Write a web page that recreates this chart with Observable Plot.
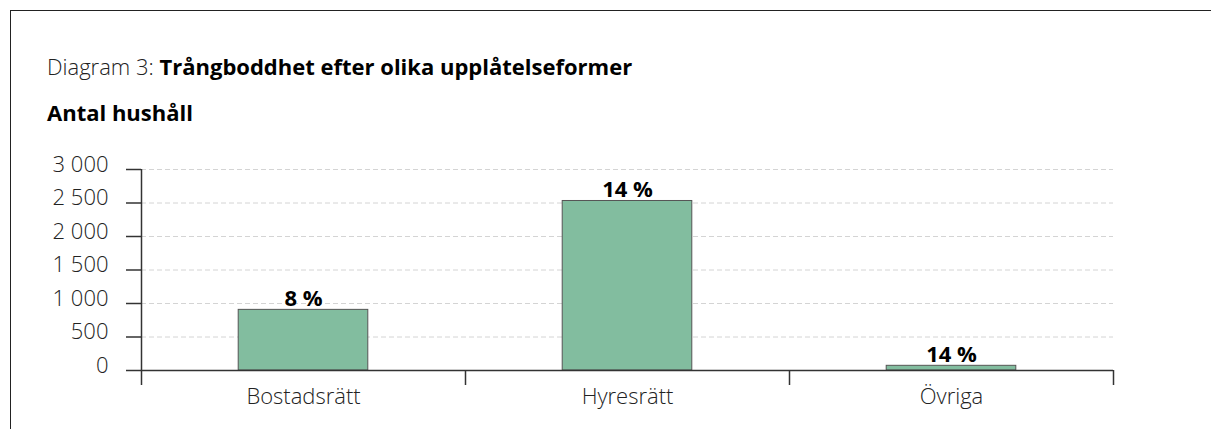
<!DOCTYPE html>
<html>
<head>
<meta charset="utf-8">
<script src="https://cdn.jsdelivr.net/npm/d3@7"></script>
<script src="https://cdn.jsdelivr.net/npm/@observablehq/plot@0.6"></script>
<style>
  html, body { margin: 0; padding: 0; background: #fff; }
  body { position: relative; width: 1211px; height: 429px; overflow: hidden; font-family: "Open Sans", sans-serif; }
  #frame { position: absolute; left: 10px; top: 10px; width: 1210px; height: 430px; border-left: 1.5px solid #222; border-top: 1.5px solid #222; }
  #title { position: absolute; left: 47px; top: 51px; font-size: 22px; line-height: normal; color: #222; white-space: nowrap; }
  #title .lead { font-weight: 300; }
  #title b { font-weight: 700; color: #000; }
  #subtitle { position: absolute; left: 47px; top: 97px; font-size: 22px; line-height: normal; font-weight: 700; color: #000; }
  #chart { position: absolute; left: 0; top: 140px; }
</style>
</head>
<body>
<div id="frame"></div>
<div id="title"><span class="lead">Diagram 3: </span><b>Trångboddhet efter olika upplåtelseformer</b></div>
<div id="subtitle">Antal hushåll</div>
<div id="chart"></div>
<script>
const categories = ["Bostadsrätt", "Hyresrätt", "Övriga"];
const households = [905, 2530, 70];
const shareLabels = ["8 %", "14 %", "14 %"];
const yTicks = [0, 500, 1000, 1500, 2000, 2500, 3000];
const gridTicks = [500, 1000, 1500, 2000, 2500, 3000];

const data = categories.map((c, i) => ({ category: c, index: i, value: households[i], label: shareLabels[i] }));
const boundaries = d3.range(categories.length + 1);
const centers = categories.map((c, i) => i + 0.5);

const sv = d3.formatLocale({ decimal: ",", thousands: " ", grouping: [3], currency: ["", ""] });
const fmt = sv.format(",");

const chart = Plot.plot({
  width: 1211,
  height: 289,
  marginLeft: 141,
  marginRight: 98,
  marginTop: 29,
  marginBottom: 59,
  style: { fontFamily: "Open Sans, sans-serif", fontSize: "22px", color: "#333", background: "transparent" },
  x: { domain: [0, categories.length] },
  y: { domain: [0, 3000] },
  marks: [
    Plot.ruleY(gridTicks, { stroke: "#d4d4d4", strokeWidth: 1, strokeDasharray: "5,3" }),
    Plot.rectY(data, { x1: d => d.index + 0.3, x2: d => d.index + 0.7, y: "value", fill: "#82bd9f", stroke: "#555", strokeWidth: 1 }),
    Plot.ruleY([0], { stroke: "#333", strokeWidth: 1.5 }),
    Plot.ruleX([0], { y1: 0, y2: 3000, stroke: "#333", strokeWidth: 1.5 }),
    Plot.axisY({ ticks: yTicks, tickSize: 15, tickFormat: () => "", label: null, stroke: "#333", strokeWidth: 1.5 }),
    Plot.axisY({ ticks: yTicks, tickSize: 0, tickPadding: 33, tickFormat: fmt, label: null, fontSize: 22, fontWeight: 300, dy: -5, fill: "#222" }),
    Plot.axisX({ ticks: boundaries, tickSize: 15, tickFormat: () => "", label: null, stroke: "#333", strokeWidth: 1.5 }),
    Plot.axisX({ ticks: centers, tickSize: 0, tickPadding: 18, tickFormat: d => categories[Math.floor(d)], label: null, fontSize: 22, fontWeight: 300, fill: "#222" }),
    Plot.text(data, { x: d => d.index + 0.5, y: "value", text: "label", lineAnchor: "bottom", dy: -4, fontWeight: "bold", fontSize: 22, fill: "#000" })
  ]
});
document.getElementById("chart").appendChild(chart);
</script>
</body>
</html>
